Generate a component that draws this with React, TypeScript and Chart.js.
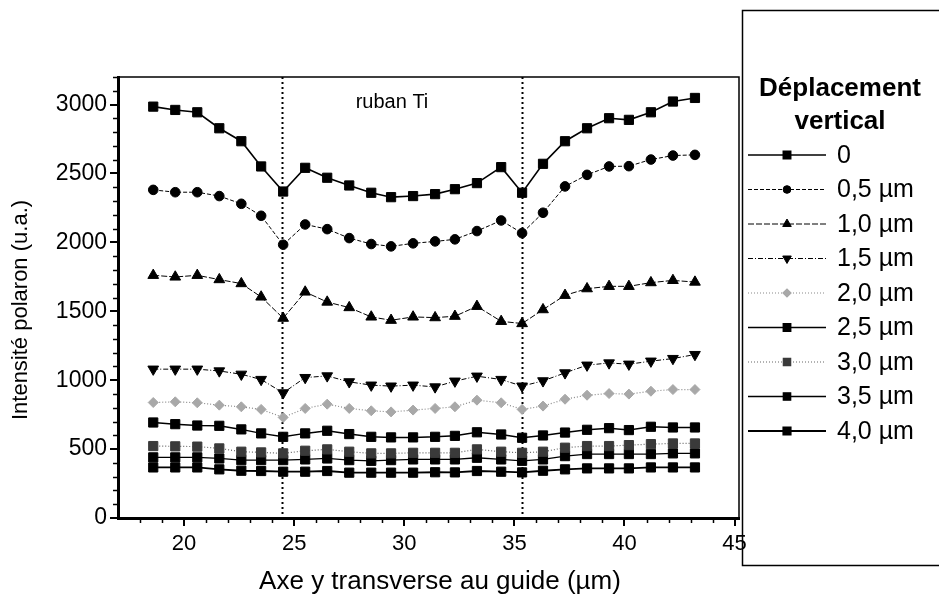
import React, { useEffect, useRef } from 'react';
import { Chart, registerables } from 'chart.js';
import { drawPoint } from 'chart.js/helpers';

Chart.register(...registerables);

// ---- data ----
const xPositions = [18.6, 19.6, 20.6, 21.6, 22.6, 23.5, 24.5, 25.5, 26.5, 27.5, 28.5, 29.4, 30.4, 31.4, 32.3, 33.3, 34.4, 35.35, 36.3, 37.3, 38.3, 39.3, 40.2, 41.2, 42.2, 43.2];

const d00 = [2985, 2961, 2944, 2828, 2734, 2551, 2369, 2541, 2469, 2413, 2360, 2328, 2336, 2350, 2386, 2430, 2546, 2360, 2570, 2734, 2828, 2901, 2889, 2944, 3022, 3048];
const d05 = [2381, 2364, 2364, 2336, 2280, 2193, 1983, 2130, 2096, 2031, 1988, 1971, 1993, 2007, 2022, 2082, 2159, 2067, 2215, 2406, 2490, 2551, 2553, 2601, 2630, 2635];
const d10 = [1761, 1749, 1761, 1730, 1701, 1604, 1450, 1640, 1567, 1527, 1459, 1435, 1459, 1454, 1464, 1536, 1427, 1411, 1512, 1616, 1664, 1681, 1681, 1708, 1724, 1712];
const d15 = [1080, 1080, 1080, 1067, 1043, 1005, 908, 1019, 1031, 988, 964, 957, 964, 951, 993, 1029, 1005, 957, 995, 1053, 1109, 1125, 1116, 1138, 1157, 1186];
const d20 = [838, 843, 836, 819, 807, 788, 730, 795, 826, 795, 778, 770, 783, 795, 807, 855, 836, 788, 812, 862, 891, 903, 899, 920, 932, 932];
const d25 = [693, 681, 671, 669, 643, 614, 589, 614, 633, 609, 589, 585, 585, 589, 596, 622, 606, 582, 599, 620, 640, 652, 638, 662, 657, 657];
const d30 = [522, 520, 518, 505, 481, 476, 469, 488, 498, 481, 469, 469, 473, 473, 473, 498, 481, 473, 481, 510, 522, 522, 529, 536, 541, 541];
const d35 = [440, 440, 440, 432, 420, 420, 420, 425, 432, 420, 415, 420, 425, 425, 425, 437, 425, 415, 425, 449, 464, 464, 464, 464, 469, 469];
const d40 = [367, 367, 367, 353, 343, 341, 336, 336, 341, 329, 329, 329, 329, 332, 331, 341, 336, 331, 343, 353, 360, 360, 360, 367, 367, 367];

const seriesLabels = ['0', '0,5 µm', '1,0 µm', '1,5 µm', '2,0 µm', '2,5 µm', '3,0 µm', '3,5 µm', '4,0 µm'];
const seriesValues = [d00, d05, d10, d15, d20, d25, d30, d35, d40];

const xTickLabels = [20, 25, 30, 35, 40, 45];
const yTickLabels = [0, 500, 1000, 1500, 2000, 2500, 3000];

const guideLines = [24.45, 35.35];
const annotationText = 'ruban Ti';
const legendTitle = ['Déplacement', 'vertical'];
const xTitle = 'Axe y transverse au guide (µm)';
const yTitle = 'Intensité polaron (u.a.)';

// ---- styles ----
const FONT = '"Liberation Sans", Arial, Helvetica, sans-serif';
const seriesStyles = [
  { pointStyle: 'rect', radius: 6.5, rotation: 0, color: '#000', fill: '#000', dash: [], width: 1.6 },
  { pointStyle: 'circle', radius: 4.8, rotation: 0, color: '#000', fill: '#000', dash: [4, 2], width: 1 },
  { pointStyle: 'triangle', radius: 6.2, rotation: 0, color: '#000', fill: '#000', dash: [6, 2], width: 1 },
  { pointStyle: 'triangle', radius: 6.2, rotation: 180, color: '#000', fill: '#000', dash: [5, 2, 1, 2], width: 1 },
  { pointStyle: 'rectRot', radius: 5, rotation: 0, color: '#8a8a8a', fill: '#a8a8a8', dash: [1, 2], width: 1.2 },
  { pointStyle: 'rect', radius: 6.5, rotation: 0, color: '#000', fill: '#000', dash: [], width: 1.5 },
  { pointStyle: 'rect', radius: 6.5, rotation: 0, color: '#666', fill: '#3a3a3a', dash: [1, 2], width: 1.2 },
  { pointStyle: 'rect', radius: 6.5, rotation: 0, color: '#000', fill: '#000', dash: [], width: 1.3 },
  { pointStyle: 'rect', radius: 6.5, rotation: 0, color: '#000', fill: '#000', dash: [], width: 1.8 },
];

const overlayPlugin = {
  id: 'overlay',
  beforeDatasetsDraw(chart: any) {
    const ctx = chart.ctx;
    const { top, bottom } = chart.chartArea;
    const xs = chart.scales.x;
    ctx.save();
    ctx.strokeStyle = '#000';
    ctx.lineWidth = 2;
    ctx.setLineDash([2, 3]);
    guideLines.forEach((v) => {
      const px = Math.round(xs.getPixelForValue(v)) + 0.5;
      ctx.beginPath();
      ctx.moveTo(px, top);
      ctx.lineTo(px, bottom);
      ctx.stroke();
    });
    ctx.restore();
  },
  afterDraw(chart: any) {
    const ctx = chart.ctx;
    const { left, right, top, bottom } = chart.chartArea;
    const xs = chart.scales.x;
    const ys = chart.scales.y;
    ctx.save();
    // frame top + right
    ctx.strokeStyle = '#000';
    ctx.lineWidth = 1.5;
    ctx.setLineDash([]);
    ctx.beginPath();
    ctx.moveTo(left, top);
    ctx.lineTo(right, top);
    ctx.lineTo(right, bottom);
    ctx.stroke();
    // minor ticks
    ctx.lineWidth = 1.5;
    for (let v = 100; v <= 3200; v += 100) {
      if (v % 500 === 0) continue;
      const py = Math.round(ys.getPixelForValue(v)) + 0.5;
      ctx.beginPath();
      ctx.moveTo(left - 5, py);
      ctx.lineTo(left, py);
      ctx.stroke();
    }
    for (let v = 18; v <= 45; v += 1) {
      if (v % 5 === 0) continue;
      const px = Math.round(xs.getPixelForValue(v)) + 0.5;
      ctx.beginPath();
      ctx.moveTo(px, bottom);
      ctx.lineTo(px, bottom + 5);
      ctx.stroke();
    }
    // annotation
    ctx.fillStyle = '#000';
    ctx.font = `20px ${FONT}`;
    ctx.textAlign = 'center';
    ctx.textBaseline = 'middle';
    ctx.fillText(annotationText, 392, 102);
    // axis titles
    ctx.font = `26px ${FONT}`;
    ctx.fillText(xTitle, 440, 582);
    ctx.save();
    ctx.translate(21, 310);
    ctx.rotate(-Math.PI / 2);
    ctx.font = `22px ${FONT}`;
    ctx.fillText(yTitle, 0, 0);
    ctx.restore();
    // legend box
    ctx.lineWidth = 1.5;
    ctx.beginPath();
    ctx.moveTo(945, 10.5);
    ctx.lineTo(742.5, 10.5);
    ctx.lineTo(742.5, 565.5);
    ctx.lineTo(945, 565.5);
    ctx.stroke();
    ctx.font = `bold 26px ${FONT}`;
    ctx.textAlign = 'center';
    ctx.fillText(legendTitle[0], 840, 89);
    ctx.fillText(legendTitle[1], 840, 122);
    chart.data.datasets.forEach((ds: any, i: number) => {
      const st = seriesStyles[i];
      const y = 155 + i * 34.5;
      ctx.save();
      ctx.strokeStyle = st.color;
      ctx.lineWidth = st.width;
      ctx.setLineDash(st.dash);
      ctx.beginPath();
      ctx.moveTo(748, y);
      ctx.lineTo(826, y);
      ctx.stroke();
      ctx.setLineDash([]);
      ctx.fillStyle = st.fill;
      ctx.strokeStyle = st.fill;
      drawPoint(ctx, { pointStyle: st.pointStyle, rotation: st.rotation, radius: st.radius * 0.8, borderWidth: 1 }, 787, y);
      ctx.restore();
      ctx.fillStyle = '#000';
      ctx.font = `25px ${FONT}`;
      ctx.textAlign = 'left';
      ctx.textBaseline = 'middle';
      ctx.fillText(ds.label, 837, y + 1);
    });
    ctx.restore();
  },
};

export default function App() {
  const canvasRef = useRef<HTMLCanvasElement | null>(null);

  useEffect(() => {
    const canvas = canvasRef.current;
    if (!canvas) return;
    const datasets = seriesValues.map((vals, i) => {
      const st = seriesStyles[i];
      return {
        label: seriesLabels[i],
        data: vals.map((v, j) => ({ x: xPositions[j], y: v })),
        borderColor: st.color,
        borderWidth: st.width,
        borderDash: st.dash,
        backgroundColor: st.fill,
        pointStyle: st.pointStyle,
        pointRotation: st.rotation,
        pointRadius: st.radius,
        pointBackgroundColor: st.fill,
        pointBorderColor: st.fill,
        pointBorderWidth: 1,
        tension: 0,
        fill: false,
      };
    });
    const chart = new Chart(canvas, {
      type: 'line',
      data: { datasets } as any,
      options: {
        responsive: false,
        animation: false,
        devicePixelRatio: 1,
        layout: { padding: { left: 0, right: 200, top: 77, bottom: 0 } },
        plugins: { legend: { display: false }, tooltip: { enabled: false }, title: { display: false } },
        scales: {
          x: {
            type: 'linear',
            min: 17,
            max: 45.2,
            afterBuildTicks: (scale: any) => {
              scale.ticks = xTickLabels.map((v) => ({ value: v }));
            },
            afterFit: (scale: any) => {
              scale.height = 82;
            },
            ticks: { font: { family: FONT, size: 22 }, color: '#000', padding: 5, maxRotation: 0, autoSkip: false, callback: (v: any) => String(v) },
            grid: { drawOnChartArea: false, drawTicks: true, tickLength: 8, color: '#000', lineWidth: 2 },
            border: { display: true, color: '#000', width: 3 },
          },
          y: {
            type: 'linear',
            min: 0,
            max: 3200,
            afterBuildTicks: (scale: any) => {
              scale.ticks = yTickLabels.map((v) => ({ value: v }));
            },
            afterFit: (scale: any) => {
              scale.width = 118;
            },
            ticks: { font: { family: FONT, size: 23 }, color: '#000', padding: 3, autoSkip: false, callback: (v: any) => String(v) },
            grid: { drawOnChartArea: false, drawTicks: true, tickLength: 8, color: '#000', lineWidth: 2 },
            border: { display: true, color: '#000', width: 3 },
          },
        },
      } as any,
      plugins: [overlayPlugin],
    });
    return () => chart.destroy();
  }, []);

  return (
    <div style={{ position: 'absolute', left: 0, top: 0, width: 939, height: 600, background: '#fff' }}>
      <canvas ref={canvasRef} width={939} height={600} style={{ display: 'block', width: 939, height: 600 }} />
    </div>
  );
}
